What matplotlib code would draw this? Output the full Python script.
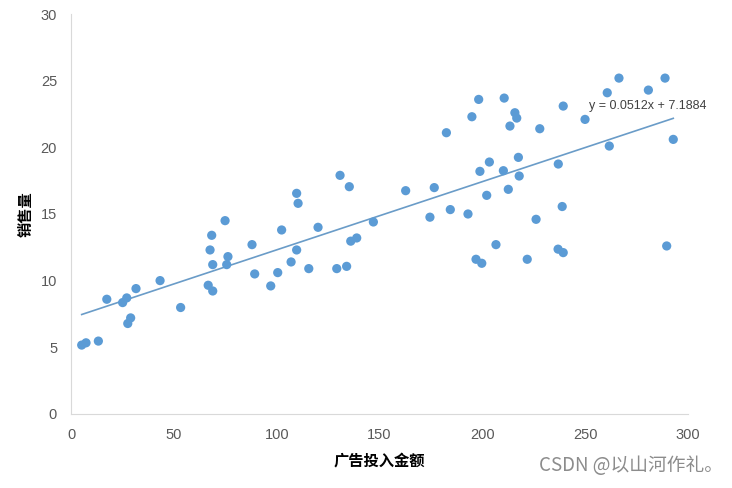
import numpy as np
import matplotlib.pyplot as plt

plt.rcParams['font.family'] = ['Noto Sans CJK SC', 'DejaVu Sans']

# 广告投入金额 (x) 与 销售量 (y)
ad_spend = [5.2, 7.3, 13.3, 17.4, 25.1, 27.1, 31.6, 27.6, 29.0, 43.3,
            53.3, 66.7, 68.9, 68.9, 67.6, 68.4, 74.9, 76.3, 75.7, 88.0,
            89.3, 97.1, 100.5, 102.4, 107.0, 109.7, 109.7, 110.4, 115.6, 120.1,
            129.2, 130.8, 134.0, 135.3, 136.0, 138.9, 147.0, 162.7, 174.5, 176.6,
            182.5, 184.4, 193.0, 194.9, 198.2, 196.9, 199.7, 198.8, 202.1, 203.4,
            206.6, 210.2, 210.6, 212.6, 213.4, 215.8, 216.7, 217.5, 217.9, 221.8,
            226.1, 227.9, 236.9, 238.8, 236.8, 239.3, 239.3, 249.9, 260.7, 261.7,
            266.4, 280.7, 288.8, 292.8, 289.6]
sales = [5.16, 5.33, 5.46, 8.6, 8.35, 8.7, 9.4, 6.78, 7.2, 10.0,
         7.98, 9.65, 9.22, 11.2, 12.3, 13.4, 14.5, 11.8, 11.2, 12.7,
         10.5, 9.6, 10.6, 13.8, 11.4, 12.3, 16.55, 15.8, 10.9, 14.0,
         10.9, 17.9, 11.07, 17.05, 12.96, 13.2, 14.4, 16.75, 14.76, 16.98,
         21.1, 15.33, 15.0, 22.3, 23.6, 11.6, 11.3, 18.2, 16.4, 18.9,
         12.7, 18.25, 23.7, 16.85, 21.6, 22.6, 22.2, 19.25, 17.85, 11.6,
         14.6, 21.4, 18.75, 15.56, 12.36, 12.1, 23.1, 22.1, 24.1, 20.1,
         25.2, 24.3, 25.2, 20.6, 12.6]

slope = 0.0512
intercept = 7.1884

fig = plt.figure(figsize=(7.32, 4.88), dpi=100)
ax = fig.add_axes([0.097, 0.152, 0.843, 0.819])

ax.scatter(ad_spend, sales, s=44, color='#5B9BD5', edgecolors='none', zorder=3)

xs = np.array([min(ad_spend), max(ad_spend)])
ax.plot(xs, slope * xs + intercept, color='#6A9CC8', linewidth=1.2, zorder=2)
ax.text(252, 22.9, 'y = 0.0512x + 7.1884', fontsize=9, color='#404040',
        family=['Liberation Sans', 'DejaVu Sans'])

ax.set_xlim(0, 300)
ax.set_ylim(0, 30)
ax.set_xticks(range(0, 301, 50))
ax.set_yticks(range(0, 31, 5))
ax.tick_params(length=0, labelsize=10.5, labelcolor='#595959', pad=10)
for lab in ax.get_xticklabels() + ax.get_yticklabels():
    lab.set_family(['Liberation Sans', 'DejaVu Sans'])

for s in ['top', 'right']:
    ax.spines[s].set_visible(False)
for s in ['left', 'bottom']:
    ax.spines[s].set_color('#D9D9D9')

ax.set_xlabel('广告投入金额', fontsize=11, fontweight='bold', labelpad=8)
ax.set_ylabel('销售量', fontsize=11, fontweight='bold', labelpad=5)

fig.text(0.737, 0.035, 'CSDN @以山河作礼。', fontsize=13.5, color='#8C8C8C')

fig.savefig('out.png', dpi=100)
